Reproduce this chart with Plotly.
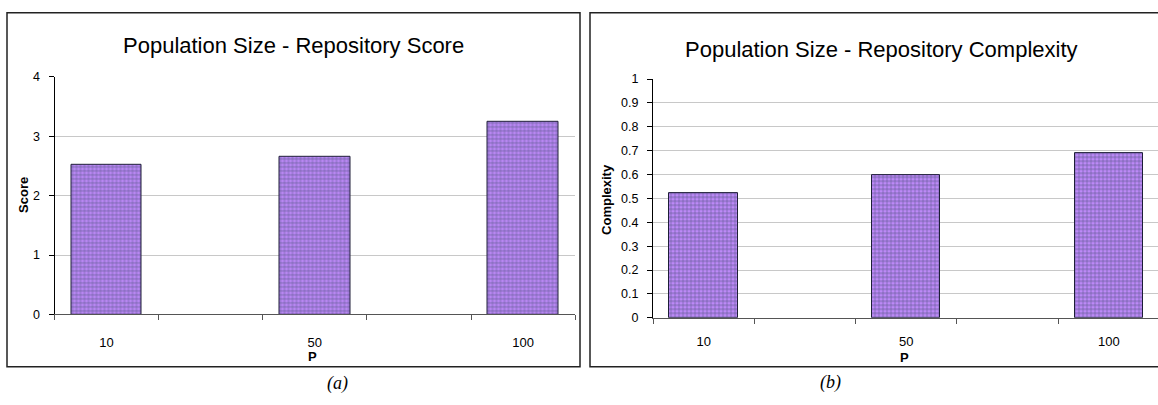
import plotly.graph_objects as go

# ---- data ----
categories = ["10", "", "50", "", "100"]
score = [2.52, None, 2.66, None, 3.25]
complexity = [0.523, None, 0.600, None, 0.688]
score_ticks = [0, 1, 2, 3, 4]
complexity_ticks = [0, 0.1, 0.2, 0.3, 0.4, 0.5, 0.6, 0.7, 0.8, 0.9, 1]

W, H = 1158, 405
def fx(p):
    return p / W
def fy(p):
    return 1 - p / H

idx = list(range(len(categories)))
lab_vals = [i for i, c in enumerate(categories) if c]
lab_text = [c for c in categories if c]

SANS = "Liberation Sans, Arial, sans-serif"
LIGHT = "#C48CFF"
DARK = "#555588"

def bar(x, y, xa, ya):
    return go.Bar(
        x=x, y=y, xaxis=xa, yaxis=ya, width=0.676,
        marker=dict(
            color=LIGHT,
            line=dict(color="#1E1E38", width=1),
            pattern=dict(shape=".", fgcolor=DARK, size=4, solidity=0.68, fillmode="overlay"),
        ),
        showlegend=False, hoverinfo="skip",
    )

fig = go.Figure()
fig.add_trace(bar(idx, score, "x", "y"))
fig.add_trace(bar(idx, complexity, "x2", "y2"))

def xaxis_cfg(domain, rng, tlen):
    return dict(
        domain=domain, range=rng, tickmode="array", tickvals=lab_vals, ticktext=lab_text,
        ticks="outside", ticklen=tlen, tickcolor="rgba(0,0,0,0)",
        tickfont=dict(family=SANS, size=13, color="#000"),
        showline=True, linecolor="#555", linewidth=1, showgrid=False, zeroline=False,
        minor=dict(tickmode="linear", tick0=-0.5, dtick=1, ticks="outside", ticklen=5,
                   tickcolor="#555", tickwidth=1, showgrid=False),
        fixedrange=True,
    )

def yaxis_cfg(domain, rng, ticks, anchor):
    return dict(
        domain=domain, range=rng, tickmode="array", tickvals=ticks,
        ticktext=[("%g" % t) for t in ticks], anchor=anchor,
        ticks="outside", ticklen=5, tickcolor="#000",
        tickfont=dict(family=SANS, size=12.5, color="#000"), ticklabelstandoff=6,
        showline=True, linecolor="#000", linewidth=1,
        showgrid=True, gridcolor="#C8C8C8", gridwidth=1, zeroline=False,
        fixedrange=True,
    )

fig.update_layout(
    width=W, height=H, margin=dict(l=0, r=0, t=0, b=0),
    paper_bgcolor="white", plot_bgcolor="white", showlegend=False,
    bargap=0,
    xaxis=dict(**xaxis_cfg([fx(54.5), fx(575.2)], [-0.5, 4.5], 16), anchor="y"),
    yaxis=yaxis_cfg([fy(318.5), fy(72.3)], [0, 4], score_ticks, "x"),
    xaxis2=dict(**xaxis_cfg([fx(653), 1.0], [-0.5, -0.5 + (W - 653) / 101.3], 12), anchor="y2"),
    yaxis2=yaxis_cfg([fy(322), fy(74.7)], [0, 1], complexity_ticks, "x2"),
)

# panel borders
for x0, x1 in [(7, 580), (590, 1175)]:
    fig.add_shape(type="rect", xref="paper", yref="paper",
                  x0=fx(x0), x1=fx(x1), y0=fy(372.7), y1=fy(6),
                  line=dict(color="#222", width=1.5), fillcolor="rgba(0,0,0,0)", layer="above")

def ann(text, x, y, size, bold=False, angle=0, family=SANS, italic=False):
    t = text
    if bold:
        t = "<b>" + t + "</b>"
    if italic:
        t = "<i>" + t + "</i>"
    fig.add_annotation(text=t, x=fx(x), y=fy(y), xref="paper", yref="paper",
                       showarrow=False, xanchor="center", yanchor="middle",
                       textangle=angle, font=dict(family=family, size=size, color="#000"))

ann("Population Size - Repository Score", 293.4, 39.6, 22)
ann("Population Size - Repository Complexity", 881.5, 44, 22)
ann("Score", 23.7, 195, 13, bold=True, angle=-90)
ann("Complexity", 605.8, 199, 13, bold=True, angle=-90)
ann("P", 312.6, 361.5, 13, bold=True)
ann("P", 904.4, 363.5, 13, bold=True)
ann("(a)", 337, 390, 18, family="Liberation Serif, Times New Roman, serif", italic=True)
ann("(b)", 830, 389, 18, family="Liberation Serif, Times New Roman, serif", italic=True)

fig.write_html("out.html", config={"displayModeBar": False},
               post_script="document.body.style.margin='0px';")
